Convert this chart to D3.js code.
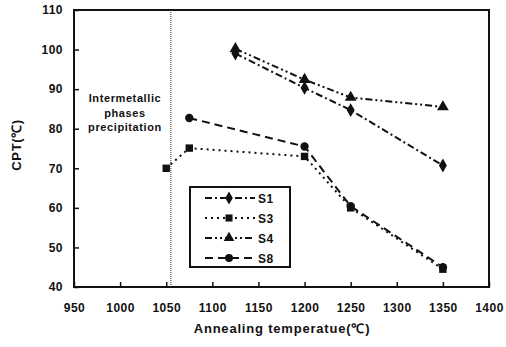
<!DOCTYPE html>
<html>
<head>
<meta charset="utf-8">
<script src="https://cdn.jsdelivr.net/npm/d3@7"></script>
<style>
  html, body { margin: 0; padding: 0; background: #fff; }
  svg { display: block; }
  text { font-family: "Liberation Sans", Arial, sans-serif; font-weight: bold; fill: #111; }
</style>
</head>
<body>
<svg id="chart" width="506" height="347"></svg>
<script>
// Annealing temperature (°C) for each measured point
const tempS1 = [1125, 1200, 1250, 1350];
const tempS3 = [1050, 1075, 1200, 1250, 1350];
const tempS4 = [1125, 1200, 1250, 1350];
const tempS8 = [1075, 1200, 1250, 1350];

// Critical pitting temperature (°C)
const cptS1 = [99, 90.3, 84.7, 70.7];
const cptS3 = [70, 75.1, 73, 60, 44.5];
const cptS4 = [100.2, 92.4, 87.9, 85.5];
const cptS8 = [82.7, 75.5, 60.4, 45];

const seriesNames = ["S1", "S3", "S4", "S8"];
const xTicks = [950, 1000, 1050, 1100, 1150, 1200, 1250, 1300, 1350, 1400];
const yTicks = [40, 50, 60, 70, 80, 90, 100, 110];
const precipitationLimit = 1055;
const noteLines = ["Intermetallic", "phases", "precipitation"];

const series = [
  { name: seriesNames[0], x: tempS1, y: cptS1, symbol: d3.symbolDiamond, dash: "7,3,2,3" },
  { name: seriesNames[1], x: tempS3, y: cptS3, symbol: d3.symbolSquare, dash: "2,4" },
  { name: seriesNames[2], x: tempS4, y: cptS4, symbol: d3.symbolTriangle, dash: "7,3,2,3,2,3" },
  { name: seriesNames[3], x: tempS8, y: cptS8, symbol: d3.symbolCircle, dash: "8,5" }
];

const svg = d3.select("#chart");
const m = { left: 74, right: 17, top: 10, bottom: 60 };
const W = 506, H = 347;

const x = d3.scaleLinear().domain([950, 1400]).range([m.left, W - m.right]);
const y = d3.scaleLinear().domain([40, 110]).range([H - m.bottom, m.top]);

// axes with inward ticks
const xAxis = svg.append("g")
  .attr("transform", `translate(0,${H - m.bottom})`)
  .call(d3.axisBottom(x).tickValues(xTicks).tickSizeInner(-5).tickSizeOuter(0).tickPadding(16).tickFormat(d3.format("d")));
const yAxis = svg.append("g")
  .attr("transform", `translate(${m.left},0)`)
  .call(d3.axisLeft(y).tickValues(yTicks).tickSizeInner(-5).tickSizeOuter(0).tickPadding(11).tickFormat(d3.format("d")));
[xAxis, yAxis].forEach(g => {
  g.select(".domain").remove();
  g.selectAll("line").attr("stroke", "#111").attr("stroke-width", 1.5);
  g.selectAll("text").style("font-size", "12px").style("font-weight", "bold")
    .style("letter-spacing", "0.5px").attr("fill", "#111");
});

// frame
svg.append("rect")
  .attr("x", m.left).attr("y", m.top)
  .attr("width", W - m.left - m.right).attr("height", H - m.top - m.bottom)
  .attr("fill", "none").attr("stroke", "#111").attr("stroke-width", 2);

// precipitation boundary
svg.append("line")
  .attr("x1", x(precipitationLimit)).attr("x2", x(precipitationLimit))
  .attr("y1", y(110)).attr("y2", y(40))
  .attr("stroke", "#333").attr("stroke-width", 1).attr("stroke-dasharray", "1,1");

svg.append("text")
  .attr("x", 125).attr("y", 102)
  .attr("text-anchor", "middle")
  .style("font-size", "11px")
  .style("letter-spacing", "0.6px")
  .selectAll("tspan").data(noteLines).join("tspan")
  .attr("x", 125).attr("dy", (d, i) => i === 0 ? 0 : 14.5)
  .text(d => d);

// series lines and markers
const line = d3.line().x(d => x(d[0])).y(d => y(d[1]));
series.forEach(s => {
  const pts = s.x.map((t, i) => [t, s.y[i]]);
  svg.append("path").datum(pts)
    .attr("d", line)
    .attr("fill", "none").attr("stroke", "#111").attr("stroke-width", 2)
    .attr("stroke-dasharray", s.dash);
  svg.selectAll(null).data(pts).join("path")
    .attr("transform", d => `translate(${x(d[0])},${y(d[1])})`)
    .attr("d", d3.symbol().type(s.symbol).size(s.symbol === d3.symbolTriangle ? 60 : 55))
    .attr("fill", "#111");
});

// legend
const lg = svg.append("g");
lg.append("rect")
  .attr("x", 190).attr("y", 187).attr("width", 100).attr("height", 80)
  .attr("fill", "#fff").attr("stroke", "#111").attr("stroke-width", 2);
series.forEach((s, i) => {
  const yy = 198 + i * 20;
  lg.append("line")
    .attr("x1", 205).attr("x2", 255).attr("y1", yy).attr("y2", yy)
    .attr("stroke", "#111").attr("stroke-width", 2).attr("stroke-dasharray", s.dash);
  lg.append("path")
    .attr("transform", `translate(229,${yy})`)
    .attr("d", d3.symbol().type(s.symbol).size(50))
    .attr("fill", "#111");
  lg.append("text")
    .attr("x", 258).attr("y", yy + 4.5)
    .style("font-size", "12px")
    .style("letter-spacing", "0.5px")
    .text(s.name);
});

// axis titles
svg.append("text")
  .attr("x", 282).attr("y", 333)
  .attr("text-anchor", "middle")
  .style("font-size", "13px")
  .style("letter-spacing", "0.8px")
  .text("Annealing temperatue(℃)");
svg.append("text")
  .attr("transform", "translate(21,145) rotate(-90)")
  .attr("text-anchor", "middle")
  .style("font-size", "13px")
  .style("letter-spacing", "0.6px")
  .text("CPT(℃)");
</script>
</body>
</html>
